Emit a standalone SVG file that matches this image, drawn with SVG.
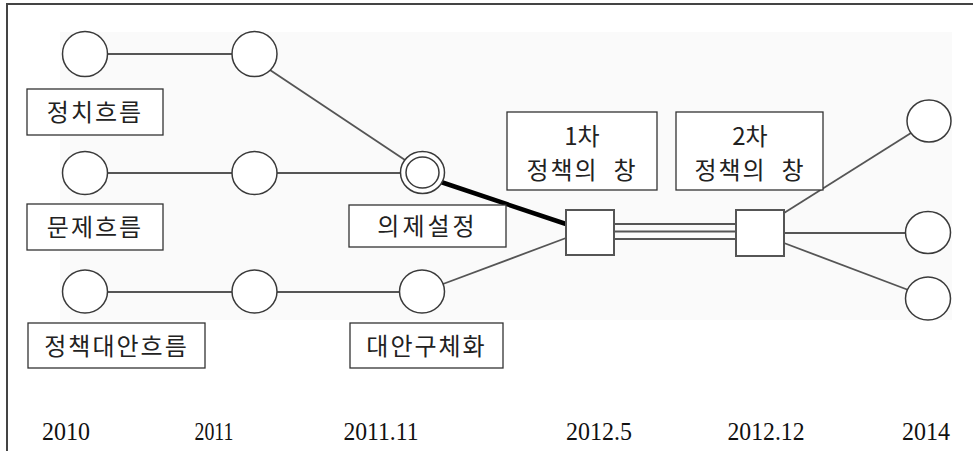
<svg xmlns="http://www.w3.org/2000/svg" width="973" height="451" viewBox="0 0 973 451">
<style>
.node ellipse{fill:#fff;stroke:#3a3a3a;stroke-width:1.5}
.sq{fill:#fff;stroke:#555;stroke-width:2}
.box{fill:#fff;stroke:#333;stroke-width:1.3}
.kr{font-family:"Noto Sans CJK KR","Noto Sans CJK SC",sans-serif;font-size:24px;fill:#222;text-anchor:middle}
.yr{font-family:"Liberation Serif",serif;font-size:26px;fill:#111;text-anchor:middle}
.ln{stroke:#555;stroke-width:1.8;fill:none}
</style>
<rect width="973" height="451" fill="#fff"/>
<rect x="60" y="32" width="892" height="288" fill="#fafafa"/>
<path d="M6 4 H973 M7 4 V451" stroke="#444" stroke-width="2" fill="none"/>
<g id="connectors">
<line class="ln" x1="107" y1="54" x2="232" y2="54" stroke="#333"/>
<line class="ln" x1="270" y1="70" x2="405" y2="160"/>
<line class="ln" x1="107" y1="173" x2="232" y2="173"/>
<line class="ln" x1="277" y1="173" x2="400" y2="173"/>
<line class="ln" x1="107" y1="292" x2="232" y2="292"/>
<line class="ln" x1="277" y1="292" x2="400" y2="292"/>
<line class="ln" x1="443" y1="284" x2="566" y2="238"/>
<line x1="441" y1="182" x2="566" y2="224" stroke="#000" stroke-width="4.5"/>
<line class="ln" x1="614" y1="224" x2="736" y2="224" stroke="#777"/>
<line class="ln" x1="614" y1="231.5" x2="736" y2="231.5" stroke="#777"/>
<line class="ln" x1="614" y1="239" x2="736" y2="239" stroke="#777"/>
<line class="ln" x1="784" y1="213" x2="911" y2="133"/>
<line class="ln" x1="784" y1="233" x2="906" y2="233"/>
<line class="ln" x1="784" y1="243" x2="911" y2="291"/>
</g>
<g id="n-p1" class="node"><ellipse cx="85" cy="54" rx="22.5" ry="22.5"/></g>
<g id="n-p2" class="node"><ellipse cx="254.5" cy="54" rx="22.5" ry="22.5"/></g>
<g id="n-q1" class="node"><ellipse cx="85" cy="173" rx="22.5" ry="21.5"/></g>
<g id="n-q2" class="node"><ellipse cx="254.5" cy="173" rx="22.5" ry="21.5"/></g>
<g id="n-agenda" class="node"><ellipse cx="422.5" cy="172.5" rx="22" ry="21"/><ellipse cx="422.5" cy="172.5" rx="16.5" ry="15.5" stroke-width="1.3"/></g>
<g id="n-a1" class="node"><ellipse cx="85" cy="291.5" rx="22.5" ry="21.5"/></g>
<g id="n-a2" class="node"><ellipse cx="254.5" cy="291.5" rx="22.5" ry="21.5"/></g>
<g id="n-a3" class="node"><ellipse cx="422" cy="291.5" rx="22.5" ry="21.5"/></g>
<g id="n-w1"><rect class="sq" x="566" y="210" width="48" height="45"/></g>
<g id="n-w2"><rect class="sq" x="736" y="210" width="48" height="46"/></g>
<g id="n-r1" class="node"><ellipse cx="929" cy="121" rx="22" ry="21"/></g>
<g id="n-r2" class="node"><ellipse cx="928" cy="232.5" rx="22.5" ry="21"/></g>
<g id="n-r3" class="node"><ellipse cx="928" cy="298.5" rx="22.5" ry="21.5"/></g>
<g id="l-politics"><rect class="box" x="27" y="89" width="136" height="46"/><text class="kr" x="95" y="121" letter-spacing="2">정치흐름</text></g>
<g id="l-problem"><rect class="box" x="27" y="204" width="136" height="46"/><text class="kr" x="95" y="236" letter-spacing="2">문제흐름</text></g>
<g id="l-alt"><rect class="box" x="28" y="323" width="177" height="45"/><text class="kr" x="116.5" y="355" letter-spacing="2">정책대안흐름</text></g>
<g id="l-agenda"><rect class="box" x="349" y="205" width="157" height="42"/><text class="kr" x="427.5" y="235" letter-spacing="3">의제설정</text></g>
<g id="l-concrete"><rect class="box" x="350" y="323" width="153" height="45"/><text class="kr" x="426.5" y="355" letter-spacing="2">대안구체화</text></g>
<g id="l-win1"><rect class="box" x="507" y="112" width="150" height="78"/><text class="kr" x="582" y="145">1차</text><text class="kr" x="582" y="179" xml:space="preserve" style="white-space:pre" letter-spacing="2">정책의  창</text></g>
<g id="l-win2"><rect class="box" x="676" y="112" width="147" height="78"/><text class="kr" x="750" y="145">2차</text><text class="kr" x="750" y="179" xml:space="preserve" style="white-space:pre" letter-spacing="2">정책의  창</text></g>
<g id="years">
<text class="yr" x="66" y="440" textLength="48" lengthAdjust="spacingAndGlyphs">2010</text>
<text class="yr" x="214" y="440" textLength="39" lengthAdjust="spacingAndGlyphs">2011</text>
<text class="yr" x="381" y="440" textLength="75" lengthAdjust="spacingAndGlyphs">2011.11</text>
<text class="yr" x="599" y="440" textLength="66" lengthAdjust="spacingAndGlyphs">2012.5</text>
<text class="yr" x="766" y="440" textLength="77" lengthAdjust="spacingAndGlyphs">2012.12</text>
<text class="yr" x="926" y="440" textLength="48" lengthAdjust="spacingAndGlyphs">2014</text>
</g>
</svg>
